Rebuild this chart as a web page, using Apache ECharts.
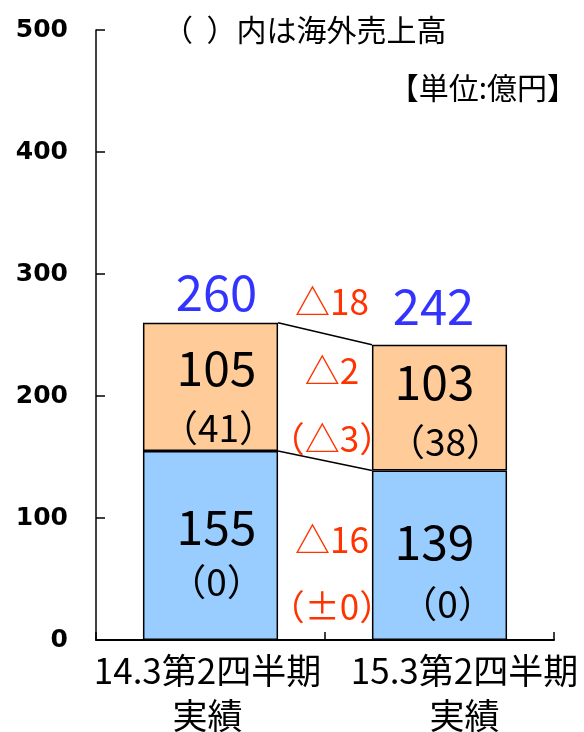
<!DOCTYPE html>
<html><head><meta charset="utf-8">
<script src="https://cdn.jsdelivr.net/npm/echarts@6/dist/echarts.min.js"></script>
<style>html,body{margin:0;padding:0;background:#fff}#c{width:584px;height:732px}</style>
</head><body><div id="c"></div>
<script>
// ---- data ----
const categories = ['14.3第2四半期\n実績', '15.3第2四半期\n実績'];
const lowerValues = [155, 139];      // blue segment
const lowerOverseas = [0, 0];        // (overseas) in blue segment
const upperValues = [105, 103];      // orange segment
const upperOverseas = [41, 38];      // (overseas) in orange segment
const yTicks = [0, 100, 200, 300, 400, 500];
const titleText = '（  ）内は海外売上高';
const unitText = '【単位:億円】';

// ---- derived ----
const totals = lowerValues.map((v, i) => v + upperValues[i]);
const FONT = '"Noto Sans CJK JP", "Noto Sans CJK SC", sans-serif';
const BAR_RATIO = 0.59;
const RED = '#ff3300';

function diffText(a, b) {
  const d = b - a;
  if (d < 0) return '△' + (-d);
  if (d > 0) return '+' + d;
  return '±0';
}

const chart = echarts.init(document.getElementById('c'), null, {renderer: 'canvas'});

function segLabel(val, ov, offset, la, lb, padB) {
  return {
    value: val,
    label: {
      show: true,
      position: 'inside',
      offset: offset,
      formatter: '{a|' + val + '}\n{b|（' + ov + '）}',
      rich: {
        a: {fontSize: 48, lineHeight: la, color: '#000', fontFamily: FONT},
        b: {fontSize: 37, lineHeight: lb, color: '#000', fontFamily: FONT, padding: padB}
      }
    }
  };
}

const lowerData = [
  segLabel(lowerValues[0], lowerOverseas[0], [6, 9.5], 54, 56, [0, 0, 0, 0]),
  segLabel(lowerValues[1], lowerOverseas[1], [-5, 19], 60, 64, [0, 0, 0, 26])
];
const upperData = [
  segLabel(upperValues[0], upperOverseas[0], [6, 12], 58, 62, [0, 0, 0, 4]),
  segLabel(upperValues[1], upperOverseas[1], [-5, 5.5], 58, 62, [0, 0, 0, 22])
];

const totalOffsets = [[6, -30], [-6, -38]];

const option = {
  animation: false,
  backgroundColor: '#fff',
  textStyle: {fontFamily: FONT},
  title: [
    {text: titleText, left: 163, top: 14, padding: 0,
     textStyle: {fontSize: 30, fontWeight: 'normal', color: '#000', fontFamily: FONT, lineHeight: 32}},
    {text: unitText, right: 7, top: 72, padding: 0,
     textStyle: {fontSize: 30, fontWeight: 'normal', color: '#000', fontFamily: FONT, lineHeight: 32}}
  ],
  grid: {left: 96, right: 30, top: 30, bottom: 92, containLabel: false, outerBoundsMode: 'none'},
  xAxis: {
    type: 'category',
    data: categories,
    boundaryGap: true,
    axisLine: {show: true, lineStyle: {color: '#000', width: 2}},
    axisTick: {show: true, inside: true, length: 8, lineStyle: {color: '#000', width: 1.5}},
    axisLabel: {
      interval: 0,
      margin: 8,
      color: '#000',
      formatter: function (v, i) {
        const k = 'c' + i;
        return v.split('\n').map(s => '{' + k + '|' + s + '}').join('\n');
      },
      rich: {
        c0: {fontSize: 35, lineHeight: 45, color: '#000', fontFamily: FONT, padding: [0, 6, 0, 0]},
        c1: {fontSize: 35, lineHeight: 45, color: '#000', fontFamily: FONT, padding: [0, 0, 0, 50]}
      }
    },
    splitLine: {show: false}
  },
  yAxis: {
    type: 'value',
    min: yTicks[0],
    max: yTicks[yTicks.length - 1],
    interval: yTicks[1] - yTicks[0],
    axisLine: {show: true, lineStyle: {color: '#000', width: 1.5}},
    axisTick: {show: true, inside: true, length: 9, lineStyle: {color: '#000', width: 1.5}},
    axisLabel: {margin: 28, color: '#000', fontSize: 25, fontWeight: 'bold', fontFamily: '"DejaVu Sans", sans-serif'},
    splitLine: {show: false}
  },
  series: [
    {
      type: 'bar', stack: 's', data: lowerData,
      barWidth: (BAR_RATIO * 100) + '%',
      itemStyle: {color: '#99ccff', borderColor: '#000', borderWidth: 1.5}
    },
    {
      type: 'bar', stack: 's', data: upperData,
      barWidth: (BAR_RATIO * 100) + '%',
      itemStyle: {color: '#ffcc99', borderColor: '#000', borderWidth: 1.5}
    },
    {
      type: 'scatter', symbolSize: 0, silent: true,
      data: totals.map((v, i) => ({value: v, label: {offset: totalOffsets[i]}})),
      label: {show: true, position: 'inside', formatter: '{c}', color: '#0000ff', fontSize: 49, fontFamily: FONT},
      z: 5
    },
    {
      type: 'custom', silent: true, z: 4,
      data: [[0, 0]],
      renderItem: function (params, api) {
        const band = api.size([1, 0])[0];
        const half = band * BAR_RATIO / 2;
        const x0 = api.coord([0, 0])[0] + half;
        const x1 = api.coord([1, 0])[0] - half;
        const Y = v => api.coord([0, v])[1];
        const xm = (x0 + x1) / 2 + 7;
        const children = [];
        // connecting lines
        [[totals[0], totals[1]], [lowerValues[0], lowerValues[1]]].forEach(p => {
          children.push({type: 'line', shape: {x1: x0, y1: Y(p[0]), x2: x1, y2: Y(p[1])},
            style: {stroke: '#000', lineWidth: 1.5}});
        });
        const topMid = (Y(totals[0]) + Y(totals[1])) / 2;
        const lowTopMid = (Y(lowerValues[0]) + Y(lowerValues[1])) / 2;
        const baseMid = Y(0);
        const upMid = (topMid + lowTopMid) / 2;
        const loMid = (lowTopMid + baseMid) / 2;
        const texts = [
          [diffText(totals[0], totals[1]), topMid - 32],
          [diffText(upperValues[0], upperValues[1]), upMid - 27],
          ['（' + diffText(upperOverseas[0], upperOverseas[1]) + '）', upMid + 41],
          [diffText(lowerValues[0], lowerValues[1]), loMid - 11],
          ['（' + diffText(lowerOverseas[0], lowerOverseas[1]) + '）', loMid + 56]
        ];
        texts.forEach(t => {
          children.push({type: 'text', style: {text: t[0], x: xm, y: t[1], fill: RED,
            fontSize: 35, fontFamily: FONT, align: 'center', verticalAlign: 'middle'}});
        });
        return {type: 'group', children: children};
      }
    }
  ]
};
chart.setOption(option);
</script>
</body></html>
